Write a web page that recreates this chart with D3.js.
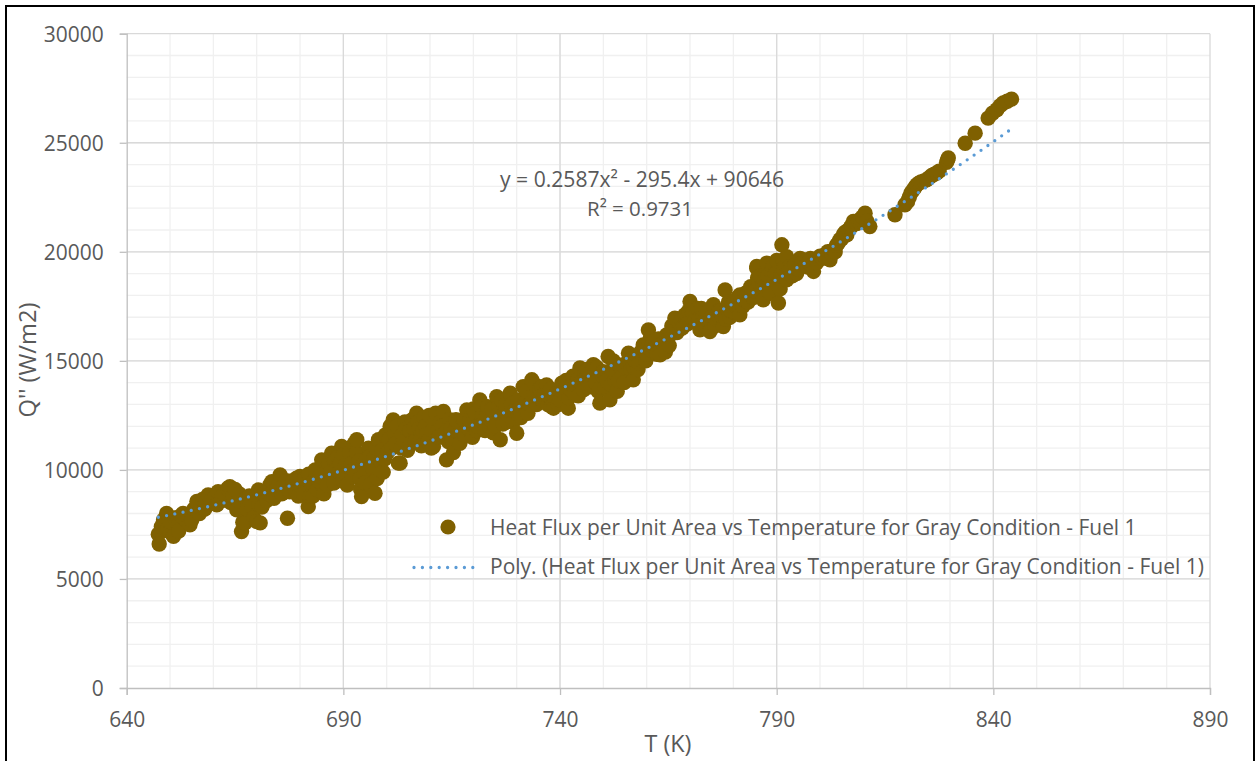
<!DOCTYPE html>
<html><head><meta charset="utf-8">
<script src="https://cdn.jsdelivr.net/npm/d3@7"></script>
<style>
html,body{margin:0;padding:0;background:#fff;overflow:hidden}
svg{display:block}
text{font-family:"Open Sans",sans-serif;fill:#595959}
</style>
</head><body>
<svg id="chart" width="1255" height="761"></svg>
<script>
// ---- data ----
const scatterTQ = [
[647.3,7050],[647.5,6600],[648.0,7400],[648.5,7700],[648.8,7600],[649.2,8000],[649.5,7300],[650.0,7150],[650.3,7600],[650.8,6950],
[651.0,7800],[651.5,7600],[651.9,7480],[652.0,7200],[652.5,7900],[653.0,8000],[653.5,7750],[654.0,7900],[654.6,7480],[655.0,7700],[655.5,8200],
[656.2,8550],[656.8,8000],[657.0,8300],[657.5,8650],[658.0,8200],[658.2,8500],[658.8,8850],[659.5,8600],[660.2,8700],[660.8,8400],[661.1,9000],
[661.8,8750],[662.0,8600],[662.5,8900],[663.3,9150],[663.8,9230],[664.0,8500],[664.5,8800],[665.0,9100],[665.4,8170],[665.8,8600],[666.0,8900],
[666.5,7170],[666.8,7600],[667.3,7570],[667.5,8700],[667.8,8200],[668.3,8800],[668.8,8500],[669.0,8300],[669.3,7800],[670.0,7630],
[670.4,9080],[670.5,8400],[670.8,7570],[671.0,9000],[671.2,8300],[671.7,8900],[672.3,8600],[672.8,8900],[673.0,9300],[673.5,9460],[673.8,9000],[674.0,8700],
[674.6,9100],[675.0,9300],[675.4,9770],[675.8,8900],[676.3,9300],[676.8,9500],[677.1,7780],[677.6,9000],[678.3,9500],[678.8,9100],[679.2,9620],
[679.6,8800],[680.0,9700],[680.3,9200],[680.8,8900],[681.0,9600],[681.9,8320],[682.0,9800],[682.3,8800],[682.8,9400],[683.0,8800],[683.5,10000],[684.0,9100],
[684.3,9500],[684.6,9700],[685.0,10460],[685.5,8900],[685.8,10000],[686.0,9900],[686.3,9300],[686.6,10300],[687.0,9900],[687.3,10770],[687.8,9400],[688.0,10400],[688.3,10000],
[688.8,10600],[689.0,9900],[689.3,10300],[689.6,11070],[689.9,9500],[690.0,10700],[690.4,10200],[690.6,9800],[690.9,9300],[691.4,10800],[691.8,10300],[692.0,9700],[692.3,10000],[692.5,11200],
[693.0,10800],[693.1,11380],[693.5,10400],[693.8,9600],[694.0,9100],[694.2,8780],[694.5,10200],[694.8,9800],[695.0,9400],[695.3,10500],[695.8,11000],[696.0,10600],[696.2,9300],
[696.7,10100],[697.0,10500],[697.3,8930],[697.5,11000],[697.8,9600],[698.1,11380],[698.3,10000],[698.6,10400],[698.9,10900],[699.2,9900],[699.5,10500],[699.7,11600],
[700.2,10800],[700.5,11400],[700.8,12000],[701.2,11000],[701.5,12290],[701.8,11700],[702.0,11200],[702.4,12000],[702.7,10310],[703.1,10310],[703.3,11000],[703.6,11600],[704.0,11300],[704.2,12200],
[704.5,11900],[704.8,10900],[705.3,11800],[705.5,11200],[705.9,12300],[706.2,11900],[706.5,11300],[706.9,12600],[707.2,12200],[707.5,11900],[707.8,11400],[708.0,11100],[708.3,11800],[708.6,12400],
[709.0,12000],[709.2,11600],[709.5,11300],[709.8,12500],[710.3,11000],[710.5,11800],[710.8,11070],[711.0,12200],[711.3,12600],[711.8,11800],[712.0,11500],[712.4,12200],[712.8,12000],[713.1,12680],
[713.5,11700],[713.8,10460],[714.2,11300],[714.5,12300],[714.8,11900],[715.0,11400],[715.4,10800],[715.8,11800],[716.0,12300],[716.5,12200],[716.9,11220],[717.4,12000],[717.8,12300],[718.0,11600],
[718.5,12750],[718.8,11900],[719.2,12300],[719.5,12100],[719.8,11500],[720.0,12800],[720.4,12600],[720.8,11800],[721.0,12000],[721.5,13210],[721.8,12900],[722.1,12500],[722.4,12200],[722.7,11800],
[723.0,12500],[723.3,12900],[723.7,12000],[724.0,12300],[724.3,12800],[724.6,11700],[725.0,12000],[725.4,13360],[725.8,12900],[726.0,12600],[726.2,11380],[726.5,13200],[726.8,12100],[727.2,12600],[727.4,13000],
[727.8,12200],[728.0,12500],[728.5,13520],[728.8,13000],[729.2,12200],[729.5,12700],[730.0,11680],[730.3,13200],[730.6,12800],[731.0,12400],[731.5,13820],[731.8,13300],[732.0,13100],[732.3,13600],[732.6,12600],
[733.0,13000],[733.5,14130],[733.8,13200],[734.0,13500],[734.3,13900],[734.6,13000],[735.0,13300],[735.3,13700],[735.8,13800],[736.0,13200],[736.4,13500],[736.9,13900],[737.2,13000],[737.5,13400],[737.8,13700],[738.0,12900],
[738.5,12830],[738.8,13300],[739.2,13500],[739.6,13000],[740.0,13200],[740.4,13980],[740.6,13600],[741.0,13500],[741.4,14100],[741.9,12830],[742.0,13300],[742.4,13700],[742.8,13900],[743.0,14300],
[743.3,13500],[743.6,13900],[744.0,14100],[744.2,13400],[744.6,14670],[744.8,14000],[745.4,13670],[745.7,14400],[746.0,14200],[746.3,14600],[746.6,13800],[747.0,13900],[747.2,14500],[747.7,14820],
[748.0,14400],[748.2,14000],[748.5,14700],[748.8,13600],[749.2,13060],[749.5,13800],[749.8,14300],[750.0,14500],[750.4,13800],[750.8,14100],[751.1,15200],[751.5,13210],[751.8,13900],[752.0,14600],
[752.3,15000],[752.6,14100],[753.0,14400],[753.2,13600],[753.5,14100],[753.8,14800],[754.0,14700],[754.4,14300],[754.8,14000],[755.0,14700],[755.4,14900],[755.8,15350],[756.0,15000],[756.3,14600],[756.9,14130],
[757.0,14700],[757.4,15000],[757.8,15200],[758.0,14600],[758.3,14900],[758.6,15400],[759.0,15000],[759.2,15730],[759.5,15500],[759.8,15000],[760.0,15300],[760.4,16420],
[760.8,16000],[761.0,15500],[761.3,15700],[761.6,15900],[762.0,15600],[762.3,15300],[762.7,16000],[763.1,15280],[763.7,15800],[764.0,15700],[764.3,15400],[764.6,16190],[765.2,15700],[765.5,16200],[765.8,16600],
[766.2,16400],[766.5,16960],[767.0,16300],[767.3,16400],[767.6,16700],[768.0,16900],[768.2,16500],[768.5,16600],[768.8,17100],[769.1,16900],[769.4,16700],[769.7,17300],[770.0,17720],[770.3,17000],[770.6,17200],
[771.2,16900],[771.5,17200],[771.8,17400],[772.0,16900],[772.3,16420],[772.6,17400],[772.9,17000],[773.2,16800],[773.5,16600],[774.0,17200],[774.3,16800],[774.6,16340],[775.0,17000],[775.4,17570],[775.7,16600],
[776.0,16900],[776.3,17100],[776.6,17300],[777.0,17300],[777.2,16800],[777.5,17000],[777.7,16570],[778.1,18250],[778.3,16900],[778.6,17400],[778.9,17700],[779.2,17000],[779.5,17300],[779.8,17600],
[780.1,17700],[780.4,17200],[780.7,17500],[781.0,17900],[781.2,17400],[781.5,18020],[781.5,17110],[782.2,17500],[782.5,17800],[782.8,18100],[783.1,18000],[783.4,17700],[783.7,18100],[784.0,18400],
[784.3,18000],[784.6,17900],[785.0,18200],[785.4,19330],[785.4,19250],[785.6,18800],[785.9,18600],[786.2,18900],[786.5,18100],[786.8,18400],[786.9,17800],[787.1,18700],[787.4,19000],[787.7,19480],
[788.0,18900],[788.2,18400],[788.5,18100],[788.8,19100],[789.1,19300],[789.4,18700],[789.7,19000],[790.0,19600],[790.2,18500],[790.4,17650],[790.8,18300],[791.0,18900],[791.2,20320],[791.4,19600],[791.6,19200],
[792.0,19400],[792.3,19780],[792.3,18720],[792.6,19000],[792.9,19300],[793.2,19200],[793.6,18900],[794.2,19400],[794.6,19000],[795.0,19200],[795.4,19700],[795.8,19500],[796.5,19630],[796.8,19400],
[797.2,19300],[797.5,19500],[797.8,19700],[798.2,19400],[798.5,19100],[799.2,19500],[799.6,19700],[800.0,19800],[800.6,19700],[801.0,19800],[801.4,19900],[801.8,20000],[802.3,19630],[802.7,19900],
[803.1,20090],[803.5,20000],[803.8,20300],[804.2,20400],[804.6,20550],[805.0,20600],[805.4,20800],[805.8,20900],[806.2,20780],[806.6,21000],[807.0,21100],[807.3,21200],[807.7,21390],[808.0,21300],[808.5,21300],
[808.9,21400],[809.3,21500],[809.8,21600],[810.4,21770],[810.8,21400],[811.5,21160],
[817.3,21700],[819.6,22150],[820.2,22300],[820.6,22500],[821.0,22700],[821.5,22840],[821.9,22950],[822.3,23070],[822.8,23150],[823.3,23200],[824.0,23250],[824.6,23300],[825.2,23400],[825.8,23500],
[826.3,23550],[826.9,23610],[827.5,23700],[829.2,24100],[829.4,24200],[829.6,24300],[833.5,24980],[835.8,25440],[838.8,26130],[839.8,26350],[840.8,26510],
[841.6,26700],[842.3,26820],[843.2,26900],[844.2,27000]
];
const xTicks = [640, 690, 740, 790, 840, 890];
const yTicks = [0, 5000, 10000, 15000, 20000, 25000, 30000];
const trendCoefficients = [0.2587, -295.4, 90646]; // y = a x^2 + b x + c (as printed on chart)
const seriesName = "Heat Flux per Unit Area vs Temperature for Gray Condition - Fuel 1";
const trendName = "Poly. (Heat Flux per Unit Area vs Temperature for Gray Condition - Fuel 1)";
const equationLabel = "y = 0.2587x² - 295.4x + 90646";
const rSquaredLabel = "R² = 0.9731";
const xTitle = "T (K)";
const yTitle = "Q'' (W/m2)";

// ---- layout ----
const svg = d3.select("#chart");
const L = 126.7, R = 1210, T = 33.7, B = 688;
const x = d3.scaleLinear().domain([640, 890]).range([L, R]);
const y = d3.scaleLinear().domain([0, 30000]).range([B, T]);
const markerColor = "#7f6000", trendColor = "#5b9bd5";

function fit(sel, w, base) {
  base = base || 20;
  sel.style("font-size", base + "px");
  const len = sel.node().getComputedTextLength();
  const fs = base * w / len;
  sel.style("font-size", fs + "px");
  return fs;
}

// outer frame
svg.append("rect").attr("x", 6).attr("y", 6).attr("width", 1248).attr("height", 800)
  .attr("fill", "#fff").attr("stroke", "#000").attr("stroke-width", 2);

// minor grid
const g = svg.append("g");
g.selectAll(".vmin").data(d3.range(650, 890, 10)).join("line")
  .attr("x1", d => x(d)).attr("x2", d => x(d)).attr("y1", T).attr("y2", B)
  .attr("stroke", "#f0f0f0").attr("stroke-width", 1.3);
g.selectAll(".hmin").data(d3.range(1000, 30000, 1000)).join("line")
  .attr("x1", L).attr("x2", R).attr("y1", d => y(d)).attr("y2", d => y(d))
  .attr("stroke", "#f0f0f0").attr("stroke-width", 1.3);
// major grid
g.selectAll(".vmaj").data(xTicks.slice(1)).join("line")
  .attr("x1", d => x(d)).attr("x2", d => x(d)).attr("y1", T).attr("y2", B)
  .attr("stroke", "#d9d9d9").attr("stroke-width", 1.3);
g.selectAll(".hmaj").data(yTicks.slice(1)).join("line")
  .attr("x1", L).attr("x2", R).attr("y1", d => y(d)).attr("y2", d => y(d))
  .attr("stroke", "#d9d9d9").attr("stroke-width", 1.3);

// axes
const yAxis = svg.append("g").attr("transform", `translate(${L},0)`)
  .call(d3.axisLeft(y).tickValues(yTicks).tickSize(7).tickPadding(16).tickFormat(d3.format("d")));
const xAxis = svg.append("g").attr("transform", `translate(0,${B})`)
  .call(d3.axisBottom(x).tickValues(xTicks).tickSize(7).tickPadding(17).tickFormat(d3.format("d")));
[yAxis, xAxis].forEach(a => {
  a.select(".domain").attr("stroke", "#bfbfbf").attr("stroke-width", 1.3);
  a.selectAll(".tick line").attr("stroke", "#bfbfbf").attr("stroke-width", 1.3);
  a.selectAll("text").attr("fill", "#595959").style("font-family", '"Open Sans",sans-serif');
});
const tickFs = fit(yAxis.selectAll(".tick text").filter(d => d === 30000), 60);
yAxis.selectAll(".tick text").style("font-size", tickFs + "px").attr("dy", "0.36em");
xAxis.selectAll(".tick text").style("font-size", tickFs + "px");
xAxis.selectAll(".tick text").attr("dy", null).attr("y", 39);

// trend line
const [a2, a1, a0] = trendCoefficients;
const tExt = d3.extent(scatterTQ, d => d[0]);
const nS = 200;
const trendPts = d3.range(nS + 1).map(i => {
  const t = tExt[0] + i * (tExt[1] - tExt[0]) / nS;
  return [t, a2 * t * t + a1 * t + a0];
});

// scatter
svg.append("g").selectAll("circle").data(scatterTQ).join("circle")
  .attr("cx", d => x(d[0])).attr("cy", d => y(d[1])).attr("r", 7.7)
  .attr("fill", markerColor);

svg.append("path").datum(trendPts)
  .attr("d", d3.line().x(d => x(d[0])).y(d => y(d[1])))
  .attr("fill", "none").attr("stroke", trendColor).attr("stroke-width", 3.3)
  .attr("stroke-linecap", "round").attr("stroke-dasharray", "0 8.4");

// equation
const eq = svg.append("text").attr("x", 642).attr("y", 187).attr("text-anchor", "middle").text(equationLabel);
fit(eq, 284);
const r2 = svg.append("text").attr("x", 640).attr("y", 216).attr("text-anchor", "middle").text(rSquaredLabel);
fit(r2, 106);

// legend
svg.append("circle").attr("cx", 448).attr("cy", 527).attr("r", 7.6).attr("fill", markerColor);
const l1 = svg.append("text").attr("x", 490).attr("y", 535).text(seriesName);
fit(l1, 647);
svg.append("line").attr("x1", 414).attr("x2", 475).attr("y1", 567.5).attr("y2", 567.5)
  .attr("stroke", trendColor).attr("stroke-width", 3.3).attr("stroke-linecap", "round")
  .attr("stroke-dasharray", "0 8.4");
const l2 = svg.append("text").attr("x", 490).attr("y", 574).text(trendName);
fit(l2, 714);

// axis titles
const xt = svg.append("text").attr("x", 668).attr("y", 752).attr("text-anchor", "middle").text(xTitle);
fit(xt, 47);
const yt = svg.append("text").attr("transform", "translate(36,360) rotate(-90)")
  .attr("text-anchor", "middle").text(yTitle);
fit(yt, 115);
</script>
</body></html>
